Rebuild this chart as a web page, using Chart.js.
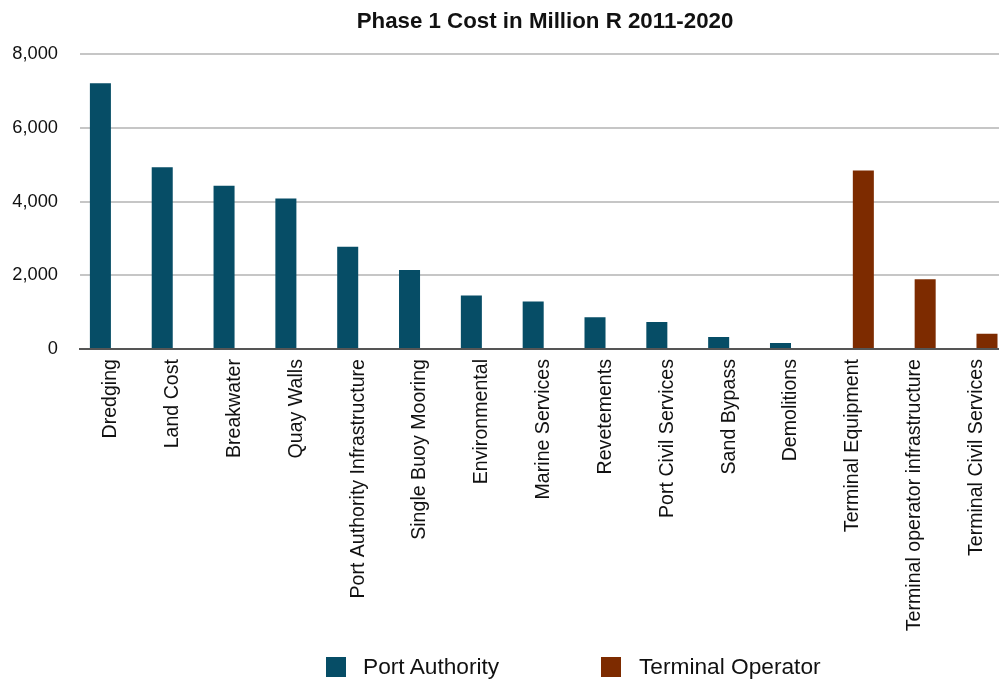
<!DOCTYPE html>
<html lang="en">
<head>
	<meta charset="UTF-8">
	<title>Phase 1 Cost in Million R 2011-2020</title>
	<script src="https://cdn.jsdelivr.net/npm/chart.js"></script>
	<style>
		html, body { margin: 0; padding: 0; overflow: hidden; background: #fff; font-family: "Liberation Sans", Arial, sans-serif; }
		#wrap { position: relative; width: 1010px; height: 679px; }
		#titulo { position: absolute; top: 8px; left: 80px; width: 930px; text-align: center; font-weight: bold; font-size: 22.3px; color: #111; }
		.caja { position: absolute; top: 657px; width: 20px; height: 20px; }
		.texto { position: absolute; top: 653px; font-size: 22.7px; color: #111; white-space: nowrap; }
	</style>
</head>
<body>
	<div id="wrap">
		<canvas id="myChart"></canvas>
		<div id="titulo">Phase 1 Cost in Million R 2011-2020</div>
		<div class="caja" style="left:326px; background:#064d66"></div>
		<div class="texto" style="left:363px">Port Authority</div>
		<div class="caja" style="left:601px; background:#7d2b00"></div>
		<div class="texto" style="left:639px">Terminal Operator</div>
	</div>
	<script type="text/javascript">
		// datos
		var categorias = ['Dredging', 'Land Cost', 'Breakwater', 'Quay Walls', 'Port Authority Infrastructure',
			'Single Buoy Mooring', 'Environmental', 'Marine Services', 'Revetements', 'Port Civil Services',
			'Sand Bypass', 'Demolitions', 'Terminal Equipment', 'Terminal operator infrastructure', 'Terminal Civil Services'];
		var portAuthority = [7210, 4930, 4430, 4080, 2770, 2140, 1450, 1290, 860, 730, 325, 165, null, null, null];
		var terminalOperator = [null, null, null, null, null, null, null, null, null, null, null, null, 4840, 1890, 415];
		var yTicks = [0, 2000, 4000, 6000, 8000];

		var ctx = document.getElementById('myChart');
		var myChart = new Chart(ctx, {
			type: 'bar',
			data: {
				labels: categorias,
				datasets: [{
					label: 'Port Authority',
					data: portAuthority,
					backgroundColor: '#064d66',
					categoryPercentage: 0.68,
					barPercentage: 1
				}, {
					label: 'Terminal Operator',
					data: terminalOperator,
					backgroundColor: '#7d2b00',
					categoryPercentage: 0.68,
					barPercentage: 1
				}]
			},
			options: {
				responsive: true,
				maintainAspectRatio: false,
				animation: false,
				layout: { padding: { top: 54, left: 0, right: 0, bottom: 0 } },
				plugins: {
					legend: { display: false },
					title: { display: false },
					tooltip: { enabled: false }
				},
				scales: {
					x: {
						grid: { display: false, drawTicks: false },
						border: { display: true, color: '#555', width: 2 },
						ticks: {
							minRotation: 90, maxRotation: 90, autoSkip: false, padding: 10,
							color: '#111', font: { family: 'Liberation Sans', size: 19.6 }
						},
						afterFit: function(s) { s.height = 330; }
					},
					y: {
						min: yTicks[0], max: yTicks[yTicks.length - 1],
						afterBuildTicks: function(s) { s.ticks = yTicks.map(function(v) { return { value: v }; }); },
						grid: {
							drawTicks: false, lineWidth: 2,
							color: function(c) { return c.tick && c.tick.value === 0 ? '#555' : '#c6c6c6'; }
						},
						border: { display: false },
						ticks: {
							padding: 22, color: '#111', font: { family: 'Liberation Sans', size: 18.3 },
							callback: function(v) { return v.toLocaleString('en-US'); }
						},
						afterFit: function(s) { s.width = 80; }
					}
				}
			}
		});
	</script>
</body>
</html>
